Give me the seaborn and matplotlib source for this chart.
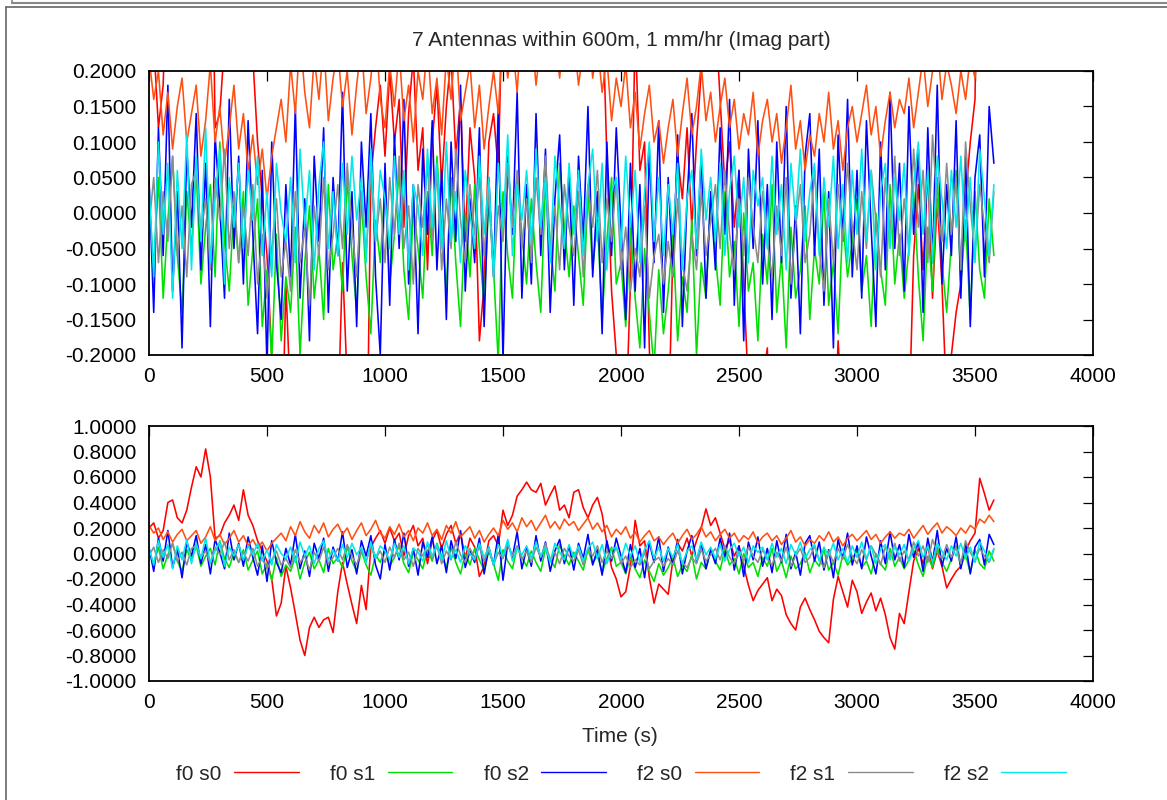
import numpy as np
import pandas as pd
import matplotlib
matplotlib.use("Agg")
import matplotlib.pyplot as plt
from matplotlib.lines import Line2D
from matplotlib.ticker import FormatStrFormatter, MultipleLocator
import seaborn as sns

# ---------------- data (sampled every 20 s) ----------------
time = np.arange(0, 3600, 20)

f0_s0 = [
    0.20, 0.24, 0.12, 0.18, 0.40, 0.42, 0.28, 0.24, 0.34, 0.52,
    0.68, 0.60, 0.82, 0.60, 0.12, 0.14, 0.24, 0.30, 0.38, 0.26,
    0.50, 0.30, 0.22, 0.10, 0.02, -0.06, -0.20, -0.49, -0.39, -0.10,
    -0.27, -0.47, -0.68, -0.80, -0.58, -0.50, -0.58, -0.52, -0.50, -0.62,
    -0.30, -0.07, -0.24, -0.40, -0.55, -0.25, -0.44, 0.05, 0.12, 0.18,
    0.08, 0.20, 0.10, 0.16, -0.02, 0.14, 0.22, 0.06, 0.12, -0.08,
    0.10, 0.18, 0.04, 0.15, 0.22, 0.08, 0.16, -0.04, 0.12, 0.05,
    -0.18, -0.10, 0.10, 0.14, 0.06, 0.34, 0.22, 0.30, 0.45, 0.50,
    0.56, 0.50, 0.48, 0.55, 0.38, 0.46, 0.53, 0.34, 0.38, 0.28,
    0.48, 0.50, 0.36, 0.28, 0.38, 0.44, 0.31, 0.08, -0.11, -0.20,
    -0.34, -0.30, -0.10, 0.26, 0.06, 0.10, -0.19, -0.39, -0.24, -0.28,
    -0.32, -0.05, 0.08, 0.02, 0.12, -0.02, 0.10, 0.20, 0.35, 0.22,
    0.28, 0.16, 0.04, 0.10, -0.02, 0.06, -0.10, -0.25, -0.37, -0.29,
    -0.24, -0.19, -0.37, -0.28, -0.33, -0.48, -0.55, -0.60, -0.42, -0.35,
    -0.44, -0.52, -0.61, -0.66, -0.70, -0.36, -0.18, -0.30, -0.42, -0.21,
    -0.30, -0.47, -0.38, -0.31, -0.45, -0.35, -0.48, -0.66, -0.75, -0.47,
    -0.55, -0.30, -0.06, 0.04, -0.08, 0.06, -0.12, 0.02, -0.10, -0.27,
    -0.20, -0.14, -0.10, 0.02, 0.10, 0.16, 0.59, 0.47, 0.34, 0.42,
]

f0_s1 = [
    0.02, -0.08, 0.05, -0.12, -0.01, 0.08, -0.06, -0.14, 0.03, -0.05,
    0.06, -0.10, -0.02, 0.04, -0.09, 0.10, -0.04, -0.11, 0.01, -0.07,
    0.03, -0.13, -0.05, 0.02, -0.16, -0.08, -0.21, -0.03, -0.18, -0.09,
    -0.14, -0.02, -0.20, -0.07, 0.01, -0.12, -0.05, -0.15, 0.04, -0.08,
    -0.03, -0.11, 0.05, -0.06, -0.14, 0.02, -0.09, -0.17, -0.01, -0.07,
    0.04, -0.10, -0.03, 0.06, -0.08, -0.15, 0.01, -0.05, -0.12, 0.03,
    -0.06, 0.08, -0.02, -0.11, 0.05, -0.07, -0.16, 0.00, -0.09, 0.04,
    -0.05, -0.13, 0.02, -0.08, -0.21, 0.03, -0.06, -0.12, 0.05, -0.03,
    -0.10, 0.02, -0.07, -0.14, 0.04, -0.04, -0.11, 0.07, -0.02, -0.09,
    0.01, -0.06, -0.13, 0.03, -0.08, -0.01, -0.15, -0.04, 0.05, -0.10,
    -0.07, -0.16, -0.02, -0.12, -0.19, -0.05, -0.14, -0.22, -0.08, -0.17,
    -0.11, -0.03, -0.18, -0.09, -0.14, -0.01, -0.20, -0.07, -0.12, 0.02,
    -0.06, -0.13, 0.03, -0.09, -0.04, -0.16, 0.00, -0.11, -0.07, -0.18,
    -0.03, -0.10, 0.04, -0.14, -0.06, -0.19, -0.02, -0.12, -0.08, 0.01,
    -0.15, -0.05, -0.10, 0.03, -0.13, -0.07, -0.17, -0.01, -0.09, -0.04,
    0.02, -0.11, -0.06, -0.16, 0.00, -0.08, -0.13, 0.04, -0.10, -0.03,
    -0.12, -0.05, 0.03, -0.09, -0.18, -0.02, -0.11, 0.05, -0.07, -0.14,
    -0.04, 0.06, -0.10, -0.01, -0.15, 0.03, -0.08, -0.12, 0.02, -0.06,
]

f0_s2 = [
    0.05, -0.14, 0.12, -0.06, 0.18, -0.11, 0.03, -0.19, 0.09, -0.02,
    0.14, -0.08, 0.07, -0.16, 0.11, 0.01, -0.12, 0.16, -0.05, 0.08,
    -0.10, 0.13, -0.03, -0.17, 0.06, -0.22, 0.10, -0.07, -0.15, 0.04,
    -0.09, 0.15, -0.12, 0.02, -0.18, 0.08, -0.04, 0.12, -0.14, 0.05,
    -0.06, 0.17, -0.11, 0.03, -0.16, 0.10, -0.02, 0.14, -0.09, -0.20,
    0.07, -0.13, 0.11, -0.05, 0.16, -0.10, 0.04, -0.17, 0.09, -0.03,
    0.13, -0.08, 0.06, -0.15, 0.10, -0.04, 0.18, -0.11, 0.02, -0.07,
    0.12, -0.16, 0.05, -0.09, 0.15, -0.21, 0.08, -0.03, 0.17, -0.12,
    0.04, -0.10, 0.14, -0.06, 0.09, -0.14, 0.02, 0.11, -0.08, 0.06,
    -0.13, 0.08, -0.04, 0.15, -0.09, 0.03, -0.17, 0.10, -0.06, 0.12,
    -0.02, -0.15, 0.07, -0.11, 0.04, -0.19, 0.09, -0.07, 0.13, -0.14,
    0.05, -0.09, 0.11, -0.16, 0.02, 0.14, -0.06, 0.08, -0.12, 0.03,
    -0.08, 0.12, -0.03, 0.16, -0.13, 0.06, -0.18, 0.09, -0.05, 0.13,
    -0.10, 0.04, -0.15, 0.10, -0.07, 0.15, -0.12, 0.01, -0.17, 0.08,
    0.14, -0.06, 0.09, -0.13, 0.03, -0.19, 0.11, -0.04, 0.16, -0.09,
    0.06, -0.12, 0.13, -0.02, -0.16, 0.10, -0.08, 0.17, -0.05, 0.07,
    -0.11, 0.15, -0.03, 0.09, -0.14, 0.12, -0.07, 0.18, -0.10, 0.04,
    -0.06, 0.13, -0.12, 0.08, -0.16, 0.05, 0.11, -0.09, 0.15, 0.07,
]

f2_s0 = [
    0.22, 0.16, 0.20, 0.11, 0.17, 0.09, 0.15, 0.19, 0.10, 0.14,
    0.18, 0.08, 0.13, 0.21, 0.10, 0.15, 0.07, 0.12, 0.18, 0.09,
    0.14, 0.06, 0.11, 0.04, 0.09, 0.02, 0.08, 0.12, 0.16, 0.10,
    0.21, 0.14, 0.25, 0.17, 0.12, 0.22, 0.16, 0.24, 0.13, 0.19,
    0.23, 0.15, 0.20, 0.11, 0.18, 0.24, 0.14, 0.19, 0.26, 0.16,
    0.12, 0.21, 0.15, 0.23, 0.13, 0.18, 0.10, 0.20, 0.16, 0.24,
    0.14, 0.19, 0.11, 0.22, 0.16, 0.25, 0.13, 0.17, 0.21, 0.12,
    0.18, 0.09, 0.15, 0.20, 0.14, 0.26, 0.19, 0.24, 0.17, 0.28,
    0.21, 0.26, 0.18, 0.24, 0.30, 0.20, 0.25, 0.19, 0.27, 0.22,
    0.25, 0.18, 0.23, 0.28, 0.19, 0.24, 0.17, 0.22, 0.13, 0.19,
    0.15, 0.21, 0.12, 0.17, 0.09, 0.14, 0.18, 0.10, 0.13, 0.07,
    0.12, 0.16, 0.08, 0.14, 0.19, 0.11, 0.15, 0.21, 0.13, 0.17,
    0.10, 0.15, 0.19, 0.12, 0.16, 0.09, 0.14, 0.11, 0.17, 0.08,
    0.13, 0.16, 0.10, 0.14, 0.07, 0.12, 0.18, 0.09, 0.13, 0.06,
    0.11, 0.08, 0.14, 0.10, 0.17, 0.09, 0.13, 0.06, 0.12, 0.15,
    0.10, 0.14, 0.18, 0.11, 0.15, 0.08, 0.13, 0.17, 0.12, 0.16,
    0.14, 0.19, 0.12, 0.17, 0.22, 0.15, 0.20, 0.24, 0.16, 0.21,
    0.18, 0.14, 0.20, 0.16, 0.22, 0.19, 0.27, 0.24, 0.30, 0.25,
]

f2_s1 = [
    -0.02, 0.05, -0.07, 0.03, -0.04, 0.08, -0.06, 0.01, -0.09, 0.04,
    0.06, -0.03, 0.02, -0.08, 0.05, -0.01, 0.09, -0.05, 0.03, -0.07,
    0.01, -0.06, 0.04, -0.10, -0.03, -0.12, -0.05, 0.02, -0.09, -0.04,
    -0.11, 0.03, -0.07, -0.02, -0.13, 0.01, -0.06, 0.05, -0.08, -0.03,
    0.04, -0.05, 0.07, -0.02, -0.09, 0.03, -0.06, 0.06, -0.04, 0.02,
    -0.07, 0.05, -0.03, 0.08, -0.05, 0.01, -0.10, 0.04, -0.02, 0.07,
    -0.04, 0.06, -0.08, 0.02, -0.05, 0.09, -0.01, -0.07, 0.04, -0.03,
    0.05, -0.06, 0.03, -0.09, 0.01, -0.04, 0.07, -0.02, 0.06, -0.05,
    0.02, -0.07, 0.05, -0.03, 0.08, -0.05, 0.01, -0.08, 0.04, -0.02,
    -0.06, 0.03, -0.09, 0.04, -0.02, 0.06, -0.07, 0.02, -0.04, 0.05,
    -0.08, -0.02, -0.11, -0.05, -0.09, 0.01, -0.12, -0.06, -0.03, -0.10,
    -0.04, -0.09, 0.02, -0.07, -0.11, -0.03, -0.08, 0.03, -0.06, -0.01,
    0.04, -0.05, 0.06, -0.03, -0.08, 0.02, -0.06, 0.05, -0.02, -0.07,
    0.03, -0.04, -0.09, 0.01, -0.06, 0.05, -0.10, -0.02, 0.04, -0.07,
    -0.03, 0.06, -0.05, -0.11, 0.02, -0.07, 0.04, -0.04, 0.07, -0.02,
    -0.08, 0.03, -0.05, 0.06, -0.01, -0.09, 0.05, -0.03, 0.08, -0.06,
    0.02, -0.05, 0.09, -0.02, 0.06, -0.07, 0.11, 0.01, -0.04, 0.07,
    -0.03, 0.05, -0.08, 0.10, 0.01, -0.06, 0.04, -0.02, -0.07, 0.03,
]

f2_s2 = [
    0.04, -0.09, 0.10, -0.03, 0.07, -0.12, 0.06, -0.05, 0.11, -0.08,
    0.08, -0.04, 0.12, -0.07, 0.02, 0.09, -0.10, 0.05, -0.02, 0.07,
    -0.05, 0.06, -0.01, 0.08, -0.06, 0.03, -0.09, 0.07, 0.00, -0.04,
    0.05, -0.07, 0.09, -0.02, 0.06, -0.08, 0.04, 0.10, -0.05, 0.03,
    -0.06, 0.07, -0.03, 0.08, -0.01, 0.05, -0.07, 0.09, -0.04, 0.06,
    0.02, -0.05, 0.08, -0.03, 0.06, -0.08, 0.04, 0.01, -0.06, 0.09,
    -0.02, 0.07, -0.05, 0.10, -0.04, 0.03, -0.07, 0.06, 0.00, -0.05,
    0.08, -0.03, 0.05, -0.09, 0.07, -0.02, 0.11, -0.06, 0.04, -0.01,
    0.06, -0.04, 0.09, -0.02, 0.05, -0.07, 0.08, 0.01, -0.05, 0.07,
    -0.03, 0.06, -0.06, 0.04, 0.09, -0.04, 0.07, -0.08, 0.03, 0.05,
    -0.05, 0.08, -0.02, 0.06, -0.07, 0.03, 0.10, -0.04, 0.05, -0.06,
    0.04, -0.03, 0.07, -0.08, 0.02, 0.06, -0.05, 0.09, -0.01, 0.05,
    -0.04, 0.07, -0.06, 0.03, 0.08, -0.02, 0.05, -0.07, 0.06, 0.01,
    0.05, -0.05, 0.08, -0.03, 0.04, -0.08, 0.07, -0.01, 0.09, -0.04,
    0.03, 0.07, -0.06, 0.05, -0.02, 0.08, -0.05, 0.04, -0.07, 0.06,
    -0.03, 0.09, -0.04, 0.06, -0.08, 0.03, 0.07, -0.05, 0.05, -0.01,
    0.07, -0.06, 0.04, 0.10, -0.03, 0.06, -0.07, 0.08, 0.02, -0.05,
    0.06, -0.02, 0.08, -0.04, 0.05, -0.07, 0.09, 0.02, -0.06, 0.04,
]

series_labels = ["f0 s0", "f0 s1", "f0 s2", "f2 s0", "f2 s1", "f2 s2"]
series_values = [f0_s0, f0_s1, f0_s2, f2_s0, f2_s1, f2_s2]
series_colors = ["#ff0000", "#00e000", "#0000ff", "#ff5014", "#8c8c8c", "#00e8e8"]

title = "7 Antennas within 600m, 1 mm/hr (Imag part)"
x_label = "Time (s)"

rows = []
for lab, vals in zip(series_labels, series_values):
    rows.append(pd.DataFrame({"time": time, "value": vals, "series": lab}))
df = pd.concat(rows, ignore_index=True)
palette = dict(zip(series_labels, series_colors))

# ---------------- figure ----------------
sns.set_style("white")
plt.rcParams["font.family"] = ["Liberation Sans", "DejaVu Sans"]
FS = 15

W, H = 1167, 800
fig = plt.figure(figsize=(W / 100, H / 100), dpi=100)

def px_axes(left, top, right, bottom):
    return fig.add_axes([left / W, 1 - bottom / H, (right - left) / W, (bottom - top) / H])

ax1 = px_axes(149, 71, 1093, 355)
ax2 = px_axes(149, 426, 1093, 681)

for ax, ylim, ystep, yfmt in [(ax1, (-0.2, 0.2), 0.05, "%.4f"), (ax2, (-1.0, 1.0), 0.2, "%.4f")]:
    sns.lineplot(data=df, x="time", y="value", hue="series", hue_order=series_labels,
                 palette=palette, estimator=None, sort=False, linewidth=1.15,
                 legend=False, ax=ax)
    ax.set_xlim(0, 4000)
    ax.set_ylim(*ylim)
    ax.xaxis.set_major_locator(MultipleLocator(500))
    ax.yaxis.set_major_locator(MultipleLocator(ystep))
    ax.yaxis.set_major_formatter(FormatStrFormatter(yfmt))
    ax.set_xlabel("")
    ax.set_ylabel("")
    ax.tick_params(direction="in", length=7, width=0.9, top=True, right=True,
                   labelsize=FS, colors="black")
    ax.tick_params(axis="x", pad=9)
    ax.tick_params(axis="y", pad=9)
    for sp in ax.spines.values():
        sp.set_visible(True)
        sp.set_color("black")
        sp.set_linewidth(1.3)

fig.text(621 / W, 1 - 40 / H, title, ha="center", va="center", fontsize=FS)
fig.text(620 / W, 1 - 736 / H, x_label, ha="center", va="center", fontsize=FS)

handles = [Line2D([], [], color=c, lw=1.0) for c in series_colors]
fig.legend(handles, series_labels, loc="center", bbox_to_anchor=(621 / W, 1 - 774 / H),
           ncol=6, frameon=False, markerfirst=False, fontsize=FS,
           handlelength=3.1, handletextpad=0.6, columnspacing=1.5)

# window frame decorations
def fline(x0, y0, x1, y1, color="#777777", lw=1.2):
    fig.add_artist(Line2D([x0 / W, x1 / W], [1 - y0 / H, 1 - y1 / H],
                          transform=fig.transFigure, color=color, lw=lw))

fline(12, 3, W, 3, "#888888", 1.5)
fline(12, 0, 12, 3, "#888888", 1.2)
fline(6, 7, W, 7, "#666666", 1.2)
fline(6, 7, 6, H, "#666666", 1.2)

fig.savefig("out.png", dpi=100)
